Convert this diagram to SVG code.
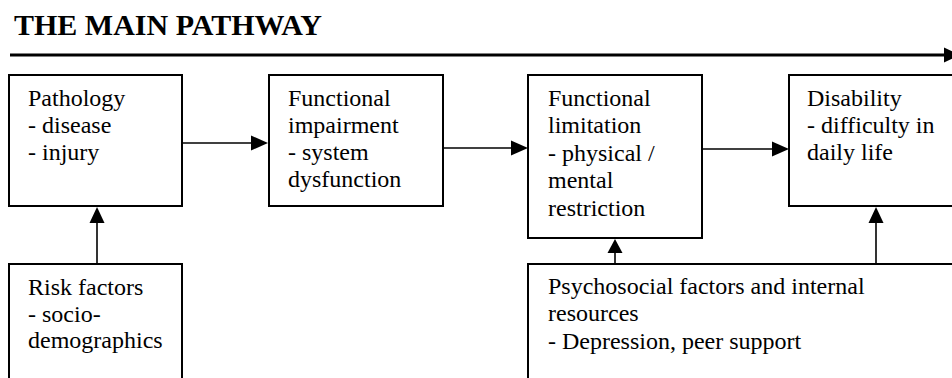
<svg xmlns="http://www.w3.org/2000/svg" width="952" height="378" viewBox="0 0 952 378">
<style>
.box{fill:#fff;stroke:#000;stroke-width:2}
.t{font-family:"Liberation Serif","Times New Roman",serif;font-size:24px;fill:#000}
.title{font-family:"Liberation Serif","Times New Roman",serif;font-size:30px;font-weight:bold;fill:#000}
.c{stroke:#000;stroke-width:1.6;fill:none}
.h{fill:#000}
</style>
<rect width="952" height="378" fill="#fff"/>
<text class="title" x="14" y="35">THE MAIN PATHWAY</text>
<g id="main-arrow">
<line x1="10" y1="55" x2="946" y2="55" stroke="#000" stroke-width="3"/>
<polygon class="h" points="944,47.5 960,55 944,62.5"/>
</g>
<g id="pathology">
<rect class="box" x="9" y="75" width="173" height="131"/>
<text class="t" x="28"><tspan x="28" y="106">Pathology</tspan><tspan x="28" y="133">- disease</tspan><tspan x="28" y="160">- injury</tspan></text>
</g>
<g id="impairment">
<rect class="box" x="269" y="75" width="174" height="131"/>
<text class="t"><tspan x="288" y="106">Functional</tspan><tspan x="288" y="133">impairment</tspan><tspan x="288" y="160">- system</tspan><tspan x="288" y="187">dysfunction</tspan></text>
</g>
<g id="limitation">
<rect class="box" x="528" y="75" width="174" height="163"/>
<text class="t"><tspan x="548" y="106">Functional</tspan><tspan x="548" y="133">limitation</tspan><tspan x="548" y="161">- physical /</tspan><tspan x="548" y="188">mental</tspan><tspan x="548" y="216">restriction</tspan></text>
</g>
<g id="disability">
<rect class="box" x="789" y="75" width="180" height="131"/>
<text class="t"><tspan x="807" y="106">Disability</tspan><tspan x="807" y="133">- difficulty in</tspan><tspan x="807" y="160">daily life</tspan></text>
</g>
<g id="risk">
<rect class="box" x="9" y="264" width="173" height="130"/>
<text class="t"><tspan x="28" y="295">Risk factors</tspan><tspan x="28" y="322">- socio-</tspan><tspan x="28" y="348">demographics</tspan></text>
</g>
<g id="psychosocial">
<rect class="box" x="528" y="264" width="440" height="130"/>
<text class="t"><tspan x="548" y="294">Psychosocial factors and internal</tspan><tspan x="548" y="321">resources</tspan><tspan x="548" y="349">- Depression, peer support</tspan></text>
</g>
<g id="connectors">
<line class="c" x1="182" y1="143" x2="252" y2="143"/>
<polygon class="h" points="251,135.5 268,143 251,150.5"/>
<line class="c" x1="443" y1="148" x2="512" y2="148"/>
<polygon class="h" points="511,140.5 528,148 511,155.5"/>
<line class="c" x1="702" y1="149" x2="773" y2="149"/>
<polygon class="h" points="772,141.5 789,149 772,156.5"/>
<line class="c" x1="97" y1="264" x2="97" y2="222"/>
<polygon class="h" points="89.5,223 97,207 104.5,223"/>
<line class="c" x1="615" y1="264" x2="615" y2="252"/>
<polygon class="h" points="607.5,253 615,239 622.5,253"/>
<line class="c" x1="876" y1="264" x2="876" y2="222"/>
<polygon class="h" points="868.5,223 876,207 883.5,223"/>
</g>
</svg>
